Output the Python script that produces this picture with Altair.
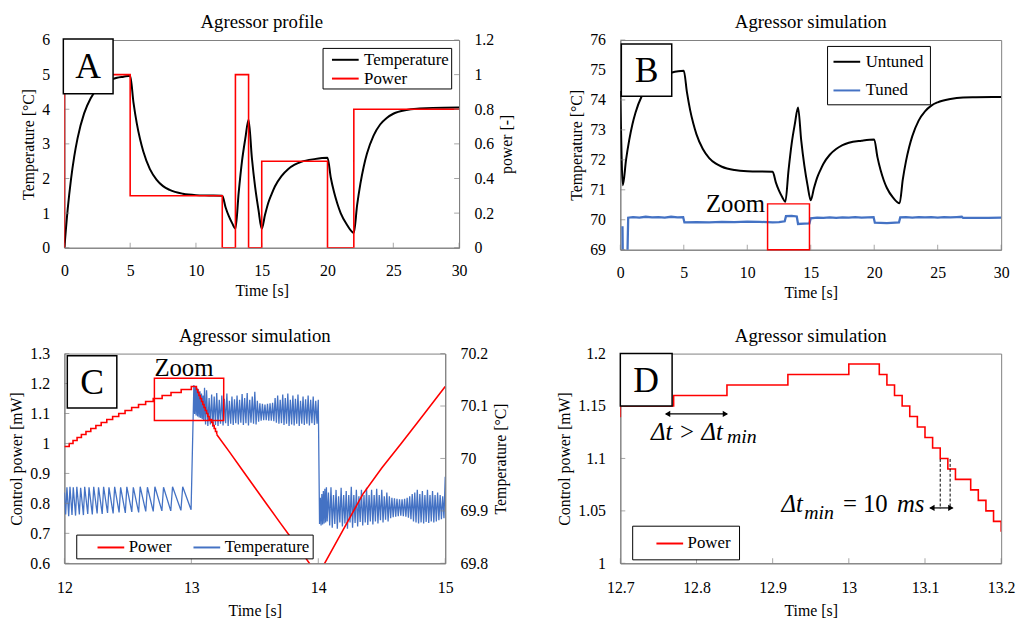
import altair as alt
import pandas as pd

FONT = "Liberation Serif"
GRAY = "#808080"
RED = "#ff0000"
BLUE = "#4472c4"

# ---------------- Panel A : Agressor profile ----------------
a_time = [0, 0.25, 0.5, 0.75, 1, 1.5, 2, 2.5, 3, 3.5, 4, 4.5, 5, 5.25, 5.5, 5.75, 6, 6.5, 7, 7.5,
          8, 9, 10, 11, 12, 12.25, 12.5, 12.75, 13, 13.25, 13.5, 13.75, 14, 14.25, 14.5, 14.75, 15,
          15.25, 15.5, 15.75, 16, 16.5, 17, 17.5, 18, 19, 20, 20.25, 20.5, 20.75, 21, 21.5, 22,
          22.25, 22.5, 22.75, 23, 23.5, 24, 24.5, 25, 26, 27, 28, 30]
a_temp = [0, 1.11, 1.97, 2.64, 3.16, 3.88, 4.32, 4.59, 4.75, 4.85, 4.91, 4.94, 4.97, 4.20, 3.60,
          3.14, 2.78, 2.27, 1.97, 1.78, 1.67, 1.56, 1.52, 1.51, 1.50, 1.17, 0.91, 0.71, 0.55, 1.6,
          2.5, 3.15, 3.7, 2.6, 1.75, 1.1, 0.55, 0.95, 1.3, 1.55, 1.77, 2.07, 2.27, 2.4, 2.48, 2.56,
          2.6, 2.02, 1.6, 1.27, 1.0, 0.65, 0.43, 1.23, 1.85, 2.34, 2.72, 3.24, 3.56, 3.75, 3.87,
          3.98, 4.02, 4.04, 4.05]
a_step_time = [0, 0, 5, 12, 13, 14, 15, 20, 22, 30]
a_step_power = [0, 1, 0.3, 0, 1, 0, 0.5, 0, 0.8, 0.8]

# ---------------- Panel B : Untuned / Tuned ----------------
b_time = [0, 0.2, 0.45, 0.7, 0.95, 1.2, 1.7, 2.2, 2.7, 3.2, 4, 5, 5.25, 5.5, 5.75, 6, 6.5, 7, 7.5,
          8, 9, 10, 12, 12.25, 12.5, 12.75, 13, 13.25, 13.5, 13.75, 14, 14.25, 14.5, 14.75, 15,
          15.25, 15.5, 15.75, 16, 16.5, 17, 17.5, 18, 19, 20, 20.25, 20.5, 20.75, 21, 21.5, 22,
          22.25, 22.5, 22.75, 23, 23.5, 24, 24.5, 25, 26, 27, 28, 30]
b_untuned = [74.3, 71.15, 72.0, 72.66, 73.18, 73.58, 74.14, 74.48, 74.68, 74.81, 74.91, 74.97,
             74.25, 73.66, 73.21, 72.85, 72.36, 72.06, 71.88, 71.77, 71.66, 71.62, 71.6, 71.25,
             70.97, 70.76, 70.6, 71.65, 72.55, 73.2, 73.75, 72.65, 71.8, 71.15, 70.65, 71.05,
             71.4, 71.65, 71.87, 72.17, 72.36, 72.49, 72.57, 72.64, 72.68, 72.1, 71.66, 71.32,
             71.06, 70.73, 70.55, 71.34, 71.95, 72.42, 72.79, 73.31, 73.62, 73.81, 73.92, 74.03,
             74.08, 74.09, 74.1]
b_tuned_time = [0.17, 0.2, 0.55, 0.62, 1.0, 1.5, 2.0, 2.5, 3.0, 3.5, 4.0, 4.5, 4.95, 5.05, 6, 7, 8,
                9, 10, 11, 12, 12.5, 12.95, 13.05, 13.5, 13.9, 14.0, 14.5, 14.9, 15.0, 15.5, 16,
                16.5, 17, 17.5, 18, 18.5, 19, 19.5, 19.95, 20.05, 21, 21.95, 22.05, 22.5, 23,
                23.5, 24, 24.5, 25, 25.5, 26, 26.5, 26.9, 27.0, 28, 29, 30]
b_tuned = [69.78, 68.6, 68.6, 70.07, 70.09, 70.07, 70.10, 70.08, 70.09, 70.07, 70.10, 70.08,
           70.09, 69.91, 69.92, 69.91, 69.93, 69.92, 69.94, 69.93, 69.91, 69.92, 69.95, 70.12,
           70.13, 70.11, 69.86, 69.87, 69.88, 70.05, 70.07, 70.06, 70.08, 70.06, 70.08, 70.07,
           70.09, 70.07, 70.08, 70.09, 69.90, 69.89, 69.91, 70.08, 70.09, 70.07, 70.09, 70.08,
           70.09, 70.07, 70.09, 70.08, 70.09, 70.10, 70.06, 70.06, 70.065, 70.07]

# ---------------- Panels C / D : control power staircase ----------------
step_time = [12.0, 12.038, 12.068, 12.100, 12.134, 12.170, 12.208, 12.248, 12.290, 12.334,
             12.380, 12.428, 12.478, 12.530, 12.584, 12.640, 12.700, 12.770, 12.840, 12.920,
             13.000, 13.040, 13.050, 13.060, 13.070, 13.080, 13.090, 13.100, 13.110, 13.120,
             13.130, 13.140, 13.160, 13.170, 13.180, 13.190, 13.200]
step_power = [0.99, 1.00, 1.01, 1.02, 1.03, 1.04, 1.05, 1.06, 1.07, 1.08, 1.09, 1.10, 1.11,
              1.12, 1.13, 1.14, 1.15, 1.16, 1.17, 1.18, 1.19, 1.18, 1.17, 1.16, 1.15, 1.14,
              1.13, 1.12, 1.11, 1.10, 1.09, 1.08, 1.07, 1.06, 1.05, 1.04, 1.03]
c_power_time = [13.2, 13.3, 13.4, 13.5, 13.6, 13.7, 13.8, 13.9, 13.95, 14.0, 14.05, 14.2, 14.35,
                14.5, 14.65, 14.8, 15.0]
c_power = [1.03, 0.972, 0.912, 0.853, 0.794, 0.735, 0.677, 0.618, 0.588, 0.56, 0.6, 0.715, 0.83,
           0.918, 0.998, 1.08, 1.19]

c_temp_seg1 = [
    (12.000, 69.935), (12.010, 69.893), (12.020, 69.945), (12.034, 69.890), (12.044, 69.946),
    (12.060, 69.892), (12.070, 69.945), (12.088, 69.891), (12.098, 69.946), (12.118, 69.893),
    (12.128, 69.944), (12.150, 69.892), (12.160, 69.946), (12.184, 69.894), (12.194, 69.945),
    (12.220, 69.893), (12.231, 69.946), (12.258, 69.895), (12.269, 69.945), (12.298, 69.894),
    (12.309, 69.946), (12.340, 69.896), (12.351, 69.945), (12.384, 69.895), (12.396, 69.946),
    (12.431, 69.897), (12.443, 69.945), (12.480, 69.896), (12.492, 69.946), (12.531, 69.898),
    (12.543, 69.945), (12.585, 69.897), (12.597, 69.946), (12.641, 69.899), (12.654, 69.945),
    (12.700, 69.899), (12.713, 69.946), (12.768, 69.900), (12.781, 69.945), (12.838, 69.900),
    (12.852, 69.946), (12.918, 69.901), (12.932, 69.946), (12.998, 69.902), (13.020, 70.140)]
c_temp_seg2 = [
    (13.026, 70.085), (13.032, 70.138), (13.038, 70.082), (13.044, 70.135), (13.050, 70.080),
    (13.056, 70.132), (13.062, 70.078), (13.068, 70.128), (13.074, 70.077), (13.080, 70.124),
    (13.086, 70.075), (13.092, 70.120), (13.098, 70.072), (13.104, 70.135), (13.112, 70.065),
    (13.120, 70.130), (13.130, 70.062), (13.140, 70.115), (13.150, 70.065), (13.160, 70.122),
    (13.170, 70.060), (13.180, 70.118), (13.190, 70.064), (13.200, 70.125), (13.210, 70.062),
    (13.220, 70.112), (13.230, 70.066), (13.240, 70.120), (13.250, 70.063), (13.260, 70.114),
    (13.270, 70.067), (13.280, 70.124), (13.290, 70.062), (13.300, 70.110), (13.310, 70.066),
    (13.320, 70.118), (13.330, 70.064), (13.340, 70.113), (13.350, 70.067), (13.360, 70.120),
    (13.370, 70.065), (13.380, 70.112), (13.390, 70.068), (13.400, 70.123), (13.410, 70.064),
    (13.420, 70.115), (13.430, 70.067), (13.440, 70.125), (13.450, 70.063), (13.460, 70.112),
    (13.470, 70.068), (13.480, 70.118), (13.490, 70.066), (13.500, 70.127), (13.510, 70.065),
    (13.520, 70.110), (13.530, 70.070), (13.540, 70.105), (13.550, 70.072), (13.560, 70.104),
    (13.570, 70.073), (13.580, 70.103), (13.590, 70.073), (13.600, 70.104), (13.610, 70.072),
    (13.620, 70.105), (13.630, 70.072), (13.640, 70.106), (13.650, 70.071), (13.660, 70.115),
    (13.670, 70.068), (13.680, 70.120), (13.690, 70.066), (13.700, 70.112), (13.710, 70.067),
    (13.720, 70.122), (13.730, 70.064), (13.740, 70.115), (13.750, 70.066), (13.760, 70.124),
    (13.770, 70.062), (13.780, 70.112), (13.790, 70.065), (13.800, 70.120), (13.810, 70.063),
    (13.820, 70.114), (13.830, 70.066), (13.840, 70.122), (13.850, 70.062), (13.860, 70.110),
    (13.870, 70.066), (13.880, 70.118), (13.890, 70.064), (13.900, 70.113), (13.910, 70.066),
    (13.920, 70.120), (13.930, 70.063), (13.940, 70.112), (13.950, 70.067), (13.960, 70.118),
    (13.970, 70.064), (13.980, 70.110), (13.990, 70.066), (14.000, 70.112)]
c_temp_seg3 = [
    (14.010, 69.875), (14.016, 69.925), (14.022, 69.872), (14.028, 69.932), (14.034, 69.874),
    (14.040, 69.938), (14.046, 69.876), (14.052, 69.942), (14.058, 69.878), (14.064, 69.945),
    (14.070, 69.880), (14.080, 69.935), (14.090, 69.872), (14.100, 69.945), (14.110, 69.868),
    (14.120, 69.930), (14.130, 69.875), (14.140, 69.940), (14.150, 69.866), (14.160, 69.928),
    (14.170, 69.878), (14.180, 69.944), (14.190, 69.870), (14.200, 69.930), (14.210, 69.876),
    (14.220, 69.938), (14.230, 69.866), (14.240, 69.930), (14.250, 69.878), (14.260, 69.946),
    (14.270, 69.868), (14.280, 69.930), (14.290, 69.877), (14.300, 69.940), (14.310, 69.870),
    (14.320, 69.928), (14.330, 69.879), (14.340, 69.940), (14.350, 69.872), (14.360, 69.930),
    (14.370, 69.878), (14.380, 69.944), (14.390, 69.873), (14.400, 69.930), (14.410, 69.880),
    (14.420, 69.940), (14.430, 69.874), (14.440, 69.930), (14.450, 69.880), (14.460, 69.942),
    (14.470, 69.876), (14.480, 69.930), (14.490, 69.882), (14.500, 69.940), (14.510, 69.878),
    (14.520, 69.928), (14.530, 69.883), (14.540, 69.935), (14.550, 69.880), (14.560, 69.928),
    (14.570, 69.886), (14.580, 69.925), (14.590, 69.888), (14.600, 69.924), (14.610, 69.889),
    (14.620, 69.923), (14.630, 69.890), (14.640, 69.922), (14.650, 69.891), (14.660, 69.922),
    (14.670, 69.890), (14.680, 69.923), (14.690, 69.889), (14.700, 69.925), (14.710, 69.887),
    (14.720, 69.928), (14.730, 69.884), (14.740, 69.932), (14.750, 69.880), (14.760, 69.935),
    (14.770, 69.878), (14.780, 69.940), (14.790, 69.876), (14.800, 69.932), (14.810, 69.878),
    (14.820, 69.938), (14.830, 69.876), (14.840, 69.930), (14.850, 69.879), (14.860, 69.940),
    (14.870, 69.877), (14.880, 69.930), (14.890, 69.880), (14.900, 69.938), (14.910, 69.878),
    (14.920, 69.930), (14.930, 69.880), (14.940, 69.935), (14.950, 69.882), (14.960, 69.930),
    (14.970, 69.884), (14.980, 69.928), (14.990, 69.886), (15.000, 69.965)]

# ---------------- axis ticks ----------------
a_xt = [0, 5, 10, 15, 20, 25, 30]
a_ytl = [0, 1, 2, 3, 4, 5, 6]
a_ytr = [0, 0.2, 0.4, 0.6, 0.8, 1, 1.2]
b_yt = [69, 70, 71, 72, 73, 74, 75, 76]
c_xt = [12, 13, 14, 15]
c_ytl = [0.6, 0.7, 0.8, 0.9, 1, 1.1, 1.2, 1.3]
c_ytr = [69.8, 69.9, 70, 70.1, 70.2]
d_xt = [12.7, 12.8, 12.9, 13, 13.1, 13.2]
d_yt = [1, 1.05, 1.1, 1.15, 1.2]

# ---------------- annotation boxes (data units) ----------------
a_box = {"x": -0.08, "x2": 3.7, "y": 0.89, "y2": 1.206, "label": "A"}
b_box = {"x": 0.08, "x2": 4.05, "y": 74.12, "y2": 75.87, "label": "B"}
c_box = {"x": 12.023, "x2": 12.413, "y": 1.118, "y2": 1.293, "label": "C"}
d_box = {"x": 12.7, "x2": 12.768, "y": 1.15, "y2": 1.2, "label": "D"}
b_zoom = {"x": 11.6, "x2": 14.9, "y": 69.0, "y2": 70.53, "tx": 11.4, "ty": 70.26}
c_zoom = {"x": 12.709, "x2": 13.255, "y": 1.0765, "y2": 1.2175, "tx": 12.709, "ty": 1.225}

# D annotation texts
d_text_t = [12.7403, 12.840, 12.9117, 12.9416, 12.9922, 13.0632]
d_text_p = [1.1173, 1.1148, 1.049, 1.0427, 1.049, 1.049]
d_text_s = ["Δt > Δt", "min", "Δt", "min", "= 10", "ms"]
d_text_size = [25, 20, 25, 20, 25, 25]
d_text_italic = [True, True, True, True, False, True]

W_A, H_A = 399, 210
W, H = 385, 212


def sc(dom):
    return alt.Scale(domain=dom, nice=False, zero=False)


def ax_x(ticks, label_pad=15, title_pad=4):
    return alt.Axis(values=ticks, title="Time [s]", format="~g", labelFlush=False,
                    labelOverlap=False, labelPadding=label_pad, titlePadding=title_pad)


def ax_y(ticks, title, orient):
    extra = {"titleBaseline": "top"} if orient == "right" else {}
    return alt.Axis(values=ticks, title=title, orient=orient, format="~g", titleAngle=270,
                    labelOverlap=False, **extra)


class P:
    """Scales + axes of one (x, y) coordinate system."""

    def __init__(self, xdom, xax, ydom, yax):
        self.xdom, self.xax, self.ydom, self.yax = xdom, xax, ydom, yax

    def x(self, field="t"):
        return alt.X(f"{field}:Q", scale=sc(self.xdom), axis=self.xax)

    def y(self, field):
        return alt.Y(f"{field}:Q", scale=sc(self.ydom), axis=self.yax)


def xticks(p, vals, h):
    return alt.Chart(pd.DataFrame({"t": vals})).mark_tick(
        color=GRAY, size=5, thickness=1).encode(x=p.x(), y=alt.value(h - 2.5))


def yticks(p, vals, xpos):
    return alt.Chart(pd.DataFrame({"v": vals})).mark_tick(
        color=GRAY, size=5, thickness=1).encode(y=p.y("v"), x=alt.value(xpos))


def box_layers(p, box):
    df = pd.DataFrame([box])
    df["cx"] = (df["x"] + df["x2"]) / 2
    df["cy"] = (df["y"] + df["y2"]) / 2
    rect = alt.Chart(df).mark_rect(fill="white", stroke="black", strokeWidth=1.5, clip=False).encode(
        x=p.x("x"), x2="x2:Q", y=p.y("y"), y2="y2:Q")
    txt = alt.Chart(df).mark_text(font=FONT, fontSize=36, color="black", baseline="middle",
                                  align="center", dy=1).encode(
        x=p.x("cx"), y=p.y("cy"), text="label:N")
    return [rect, txt]


def zoom_layers(p, z, align):
    df = pd.DataFrame([z])
    df["label"] = "Zoom"
    rect = alt.Chart(df).mark_rect(fillOpacity=0, stroke=RED, strokeWidth=1.5).encode(
        x=p.x("x"), x2="x2:Q", y=p.y("y"), y2="y2:Q")
    txt = alt.Chart(df).mark_text(font=FONT, fontSize=25, color="black", baseline="alphabetic",
                                  align=align).encode(
        x=p.x("tx"), y=p.y("ty"), text="label:N")
    return [rect, txt]


def legend(x, y, **kw):
    return alt.Legend(title=None, orient="none", legendX=x, legendY=y,
                      symbolType="M-1.5,0H1.5", symbolStrokeWidth=2, symbolSize=324,
                      labelFont=FONT, labelFontSize=17, labelColor="black",
                      strokeColor="black", fillColor="white", **kw)


def title(text):
    return alt.TitleParams(text=text, font=FONT, fontSize=19, fontWeight="normal", color="black",
                           offset=0, anchor="middle", frame="group")


# ---------------- Panel A ----------------
A_X = [0, 30]
xa = ax_x(a_xt)
pa_l = P(A_X, xa, [0, 6], ax_y(a_ytl, "Temperature [°C]", "left"))
pa_r = P(A_X, xa, [0, 1.2], ax_y(a_ytr, "power [-]", "right"))
leg_a = legend(261, 8, padding=2, rowPadding=1, symbolOffset=11, labelOffset=9)
col_a = alt.Color("s:N", scale=alt.Scale(domain=["Temperature", "Power"], range=["black", RED]),
                  legend=leg_a)
df_at = pd.DataFrame({"t": a_time, "temp": a_temp, "s": "Temperature"})
df_ap = pd.DataFrame({"t": a_step_time, "p": a_step_power, "s": "Power",
                      "i": list(range(len(a_step_time)))})
a_left = alt.layer(
    alt.Chart(df_at).mark_line(strokeWidth=2, interpolate="monotone", clip=True).encode(
        x=pa_l.x(), y=pa_l.y("temp"), color=col_a),
    xticks(pa_l, a_xt, H_A),
    yticks(pa_l, a_ytl, 2.5),
)
a_right = alt.layer(
    alt.Chart(df_ap).mark_line(strokeWidth=1.6, interpolate="step-after", clip=True).encode(
        x=pa_r.x(), y=pa_r.y("p"), color=col_a, order="i:Q"),
    yticks(pa_r, a_ytr, W_A - 2.5),
    *box_layers(pa_r, a_box),
)
panel_a = alt.layer(a_left, a_right).resolve_scale(y="independent").properties(
    width=W_A, height=H_A, title=title("Agressor profile"))

# ---------------- Panel B ----------------
pb = P(A_X, ax_x(a_xt), [69, 76], ax_y(b_yt, "Temperature [°C]", "left"))
leg_b = legend(209, 6, padding=6, rowPadding=11, symbolOffset=4, labelOffset=9)
col_b = alt.Color("s:N", scale=alt.Scale(domain=["Untuned", "Tuned"], range=["black", BLUE]),
                  legend=leg_b)
df_bu = pd.DataFrame({"t": b_time, "temp": b_untuned, "s": "Untuned"})
df_bt = pd.DataFrame({"t": b_tuned_time, "temp": b_tuned, "s": "Tuned"})
panel_b = alt.layer(
    alt.Chart(df_bu).mark_line(strokeWidth=2, interpolate="monotone", clip=True).encode(
        x=pb.x(), y=pb.y("temp"), color=col_b),
    alt.Chart(df_bt).mark_line(strokeWidth=2.3, clip=True).encode(
        x=pb.x(), y=pb.y("temp"), color=col_b),
    xticks(pb, a_xt, H),
    yticks(pb, b_yt, 2.5),
    *zoom_layers(pb, b_zoom, "right"),
    *box_layers(pb, b_box),
).properties(width=W, height=H, title=title("Agressor simulation"))

# ---------------- Panel C ----------------
C_X = [12, 15]
xc = ax_x(c_xt, label_pad=17, title_pad=7)
pc_t = P(C_X, xc, [69.8, 70.2], ax_y(c_ytr, "Temperature [°C]", "right"))
pc_p = P(C_X, xc, [0.6, 1.3], ax_y(c_ytl, "Control power [mW]", "left"))
leg_c = legend(12, 183, padding=3, direction="horizontal", columnPadding=3, symbolOffset=22,
               labelOffset=8)
col_c = alt.Color("s:N", scale=alt.Scale(domain=["Power", "Temperature"], range=[RED, BLUE]),
                  legend=leg_c)
c_pts = c_temp_seg1 + c_temp_seg2 + c_temp_seg3
df_ct = pd.DataFrame({"t": [p[0] for p in c_pts], "temp": [p[1] for p in c_pts],
                      "s": "Temperature"})
df_cs = pd.DataFrame({"t": step_time, "p": step_power, "s": "Power"})
df_cl = pd.DataFrame({"t": c_power_time, "p": c_power, "s": "Power"})
c_temp = alt.layer(
    alt.Chart(df_ct).mark_line(strokeWidth=1.3, clip=True).encode(
        x=pc_t.x(), y=pc_t.y("temp"), color=col_c),
    xticks(pc_t, c_xt, H),
    yticks(pc_t, c_ytr, W - 2.5),
)
c_pow = alt.layer(
    alt.Chart(df_cs).mark_line(strokeWidth=1.6, interpolate="step-after", clip=True).encode(
        x=pc_p.x(), y=pc_p.y("p"), color=col_c),
    alt.Chart(df_cl).mark_line(strokeWidth=1.6, clip=True).encode(
        x=pc_p.x(), y=pc_p.y("p"), color=col_c),
    yticks(pc_p, c_ytl, 2.5),
    *zoom_layers(pc_p, c_zoom, "left"),
    *box_layers(pc_p, c_box),
)
panel_c = alt.layer(c_temp, c_pow).resolve_scale(y="independent").properties(
    width=W, height=H, title=title("Agressor simulation"))

# ---------------- Panel D ----------------
pd_ = P([12.7, 13.2], ax_x(d_xt, label_pad=17, title_pad=7), [1, 1.2],
        ax_y(d_yt, "Control power [mW]", "left"))
leg_d = legend(12, 174, padding=8, symbolOffset=20, labelOffset=8)
col_d = alt.Color("s:N", scale=alt.Scale(domain=["Power"], range=[RED]), legend=leg_d)
df_ds = pd.DataFrame({"t": step_time, "p": step_power, "s": "Power"})

d_arrows = pd.DataFrame({"x": [12.760, 13.107], "x2": [12.840, 13.136], "y": [1.1425, 1.0528]})
d_heads = pd.DataFrame({"t": [12.762, 12.838, 13.109, 13.134], "p": [1.1425, 1.1425, 1.0528, 1.0528],
                        "shape": ["triangle-left", "triangle-right", "triangle-left", "triangle-right"]})
d_dash = pd.DataFrame({"t": [13.120, 13.133], "y": [1.0995, 1.0995], "y2": [1.052, 1.052]})
d_text = pd.DataFrame({"t": d_text_t, "p": d_text_p, "txt": d_text_s, "size": d_text_size,
                       "it": d_text_italic})


def d_text_layer(italic):
    return alt.Chart(d_text[d_text["it"] == italic]).mark_text(
        font=FONT, color="black", align="left", baseline="alphabetic",
        fontStyle="italic" if italic else "normal").encode(
        x=pd_.x(), y=pd_.y("p"), text="txt:N", size=alt.Size("size:Q", scale=None))


panel_d = alt.layer(
    alt.Chart(df_ds).mark_line(strokeWidth=1.6, interpolate="step-after", clip=True).encode(
        x=pd_.x(), y=pd_.y("p"), color=col_d),
    xticks(pd_, d_xt, H),
    yticks(pd_, d_yt, 2.5),
    alt.Chart(d_dash).mark_rule(color="black", strokeWidth=1, strokeDash=[3, 2]).encode(
        x=pd_.x(), y=pd_.y("y"), y2="y2:Q"),
    alt.Chart(d_arrows).mark_rule(color="black", strokeWidth=1.2).encode(
        x=pd_.x("x"), x2="x2:Q", y=pd_.y("y")),
    alt.Chart(d_heads).mark_point(filled=True, color="black", size=40, opacity=1).encode(
        x=pd_.x(), y=pd_.y("p"), shape=alt.Shape("shape:N", scale=None)),
    d_text_layer(True),
    d_text_layer(False),
    *box_layers(pd_, d_box),
).properties(width=W, height=H, title=title("Agressor simulation"))

chart = alt.concat(
    panel_a, panel_b, panel_c, panel_d, columns=2,
    spacing={"row": 25, "column": 41}, align="each",
).resolve_scale(color="independent").resolve_legend(color="independent").properties(
    padding={"left": 0, "top": 1, "right": 0, "bottom": 0}
).configure_axis(
    labelFont=FONT, labelFontSize=16, titleFont=FONT, titleFontSize=16, titleFontWeight="normal",
    labelColor="black", titleColor="black", domainColor=GRAY, domainWidth=1, ticks=False,
    grid=False, labelPadding=15, titlePadding=5, labelOverlap=False,
).configure_view(stroke=GRAY, strokeWidth=1)

chart.save("out.html", embed_options={"renderer": "svg", "actions": False})
